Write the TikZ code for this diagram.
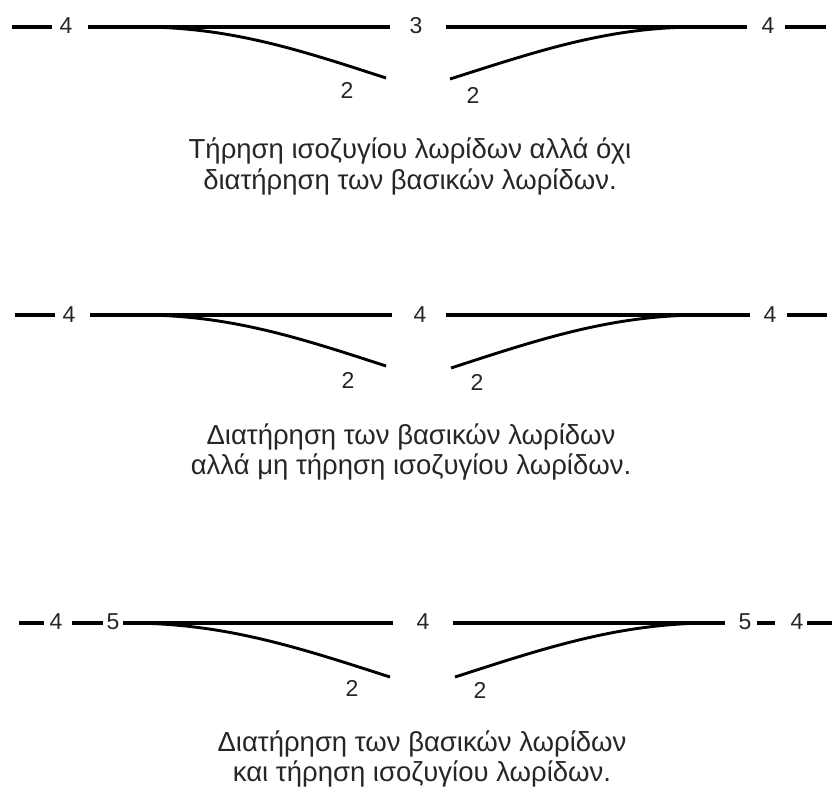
\documentclass[tikz,border=0pt]{standalone}
\usepackage{fontspec}
\setmainfont{Liberation Sans}
\begin{document}
\begin{tikzpicture}[x=1pt,y=-1pt,
  lane/.style={line width=3.4pt},
  ramp/.style={line width=2.9pt},
  num/.style={inner sep=0pt,font=\fontsize{23}{27}\selectfont,text=black!85},
  caption/.style={inner sep=0pt,anchor=base,font=\fontsize{27.5}{32}\selectfont,text=black!85}]
\useasboundingbox (0,0) rectangle (832,794);

% ---------- row 1 ----------
\node[num] (a4l) at (66,26) {4};
\node[num] (a3)  at (416,26) {3};
\node[num] (a4r) at (768,26) {4};
\node[num] (a2l) at (347,90) {2};
\node[num] (a2r) at (473,95) {2};
\coordinate (a0) at (12,27);  \coordinate (a1) at (52,27);
\coordinate (a5) at (88,27);  \coordinate (a6) at (390,27);
\coordinate (a7) at (446,27); \coordinate (a8) at (747,27);
\coordinate (a9) at (785,27); \coordinate (a10) at (826,27);
\coordinate (am1) at (140,27); \coordinate (ae1) at (386,78);
\coordinate (am2) at (698,27); \coordinate (ae2) at (450,79);
\draw[lane] (a0) -- (a1);
\draw[lane] (a5) -- (a6);
\draw[lane] (a7) -- (a8);
\draw[lane] (a9) -- (a10);
\draw[ramp] (am1) .. controls (230,27) and (300,50) .. (ae1);
\draw[ramp] (am2) .. controls (608,27) and (538,51) .. (ae2);
\node[caption] (c1a) at (410,159) {Τήρηση ισοζυγίου λωρίδων αλλά όχι};
\node[caption] (c1b) at (410,190) {διατήρηση των βασικών λωρίδων.};

% ---------- row 2 ----------
\node[num] (b4l) at (69,315) {4};
\node[num] (b4m) at (420,315) {4};
\node[num] (b4r) at (770,315) {4};
\node[num] (b2l) at (348,380) {2};
\node[num] (b2r) at (477,382) {2};
\coordinate (b0) at (15,315);  \coordinate (b1) at (55,315);
\coordinate (b5) at (90,315);  \coordinate (b6) at (392,315);
\coordinate (b7) at (446,315); \coordinate (b8) at (750,315);
\coordinate (b9) at (787,315); \coordinate (b10) at (827,315);
\coordinate (bm1) at (140,315); \coordinate (be1) at (386,366);
\coordinate (bm2) at (703,315); \coordinate (be2) at (451,368);
\draw[lane] (b0) -- (b1);
\draw[lane] (b5) -- (b6);
\draw[lane] (b7) -- (b8);
\draw[lane] (b9) -- (b10);
\draw[ramp] (bm1) .. controls (230,315) and (300,338) .. (be1);
\draw[ramp] (bm2) .. controls (612,315) and (540,339) .. (be2);
\node[caption] (c2a) at (411,444) {Διατήρηση των βασικών λωρίδων};
\node[caption] (c2b) at (411,474) {αλλά μη τήρηση ισοζυγίου λωρίδων.};

% ---------- row 3 ----------
\node[num] (c4l) at (56,622) {4};
\node[num] (c5l) at (113,622) {5};
\node[num] (c4m) at (423,622) {4};
\node[num] (c5r) at (745,622) {5};
\node[num] (c4r) at (797,622) {4};
\node[num] (c2l) at (352,688) {2};
\node[num] (c2r) at (480,690) {2};
\coordinate (d0) at (19,623);  \coordinate (d1) at (44,623);
\coordinate (d2) at (72,623);  \coordinate (d3) at (103,623);
\coordinate (d5) at (123,623); \coordinate (d6) at (393,623);
\coordinate (d7) at (453,623); \coordinate (d8) at (725,623);
\coordinate (d9) at (757,623); \coordinate (d10) at (775,623);
\coordinate (d11) at (807,623); \coordinate (d12) at (832,623);
\coordinate (dm1) at (128,623); \coordinate (de1) at (390,677);
\coordinate (dm2) at (712,623); \coordinate (de2) at (455,677);
\draw[lane] (d0) -- (d1);
\draw[lane] (d2) -- (d3);
\draw[lane] (d5) -- (d6);
\draw[lane] (d7) -- (d8);
\draw[lane] (d9) -- (d10);
\draw[lane] (d11) -- (d12);
\draw[ramp] (dm1) .. controls (225,623) and (300,648) .. (de1);
\draw[ramp] (dm2) .. controls (618,623) and (542,649) .. (de2);
\node[caption] (c3a) at (422,751) {Διατήρηση των βασικών λωρίδων};
\node[caption] (c3b) at (422,781) {και τήρηση ισοζυγίου λωρίδων.};
\end{tikzpicture}
\end{document}
